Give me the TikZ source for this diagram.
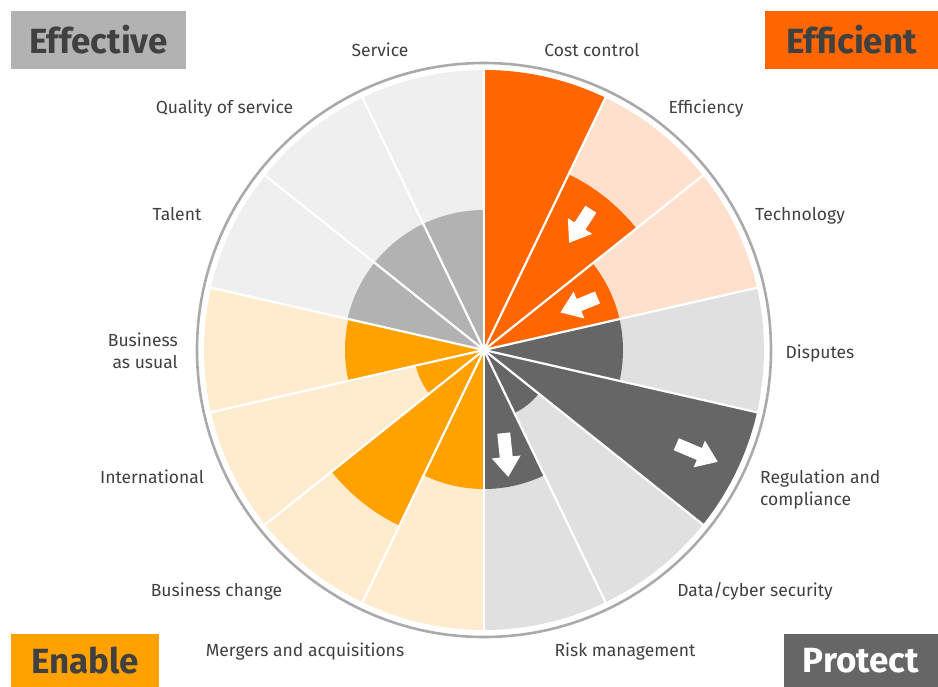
\documentclass[tikz,border=0pt]{standalone}
\usepackage{fontspec}
\setmainfont{Fira Sans}
\definecolor{orD}{HTML}{FF6600}
\definecolor{orL}{HTML}{FFE0CC}
\definecolor{grD}{HTML}{666666}
\definecolor{grL}{HTML}{E0E0E0}
\definecolor{enD}{HTML}{FFA200}
\definecolor{enL}{HTML}{FFECCF}
\definecolor{efD}{HTML}{B2B2B2}
\definecolor{efL}{HTML}{EFEFEF}
\definecolor{txt}{HTML}{404040}
\definecolor{ring}{HTML}{AAAAAA}
\tikzset{
  lbl/.style={text=txt, font=\fontsize{17.5}{22}\selectfont, inner sep=0pt, anchor=base},
  titlebox/.style={font=\fontsize{35}{40}\selectfont\bfseries, text=txt, inner sep=0pt},
  sep/.style={white, line width=2.2pt},
  ringline/.style={ring, line width=2.6pt},
}
\newcommand\blockarr[4]{%
  \fill[white, shift={(#1)}, rotate=#2]
    (-#3/2,-6.5) -- (#3/2-#4,-6.5) -- (#3/2-#4,-14.5) -- (#3/2,0)
    -- (#3/2-#4,14.5) -- (#3/2-#4,6.5) -- (-#3/2,6.5) -- cycle;}
\begin{document}
\begin{tikzpicture}[x=1pt,y=1pt]
\useasboundingbox (0,0) rectangle (938,-687);
\coordinate (c) at (484,-350);
% sectors
\foreach \i/\r/\lc/\dc in {0/280/orL/orD, 1/195/orL/orD, 2/139/orL/orD,
  3/139/grL/grD, 4/280/grL/grD, 5/70/grL/grD, 6/139/grL/grD,
  7/139/enL/enD, 8/195/enL/enD, 9/70/enL/enD, 10/139/enL/enD,
  11/140/efL/efD, 12/140/efL/efD, 13/140/efL/efD}{
  \pgfmathsetmacro\aa{90-\i*360/14}
  \pgfmathsetmacro\ab{90-(\i+1)*360/14}
  \fill[\lc] (c) -- +(\aa:280) arc[start angle=\aa, end angle=\ab, radius=280] -- cycle;
  \fill[\dc] (c) -- +(\aa:\r) arc[start angle=\aa, end angle=\ab, radius=\r] -- cycle;
}
\foreach \i in {0,...,13}{
  \draw[sep] (c) -- +({90-\i*360/14}:281);
}
\draw[ringline] (c) circle[radius=287];
% arrows
\blockarr{580,-226}{-123}{40}{20}
\blockarr{579,-305}{202}{40}{20}
\blockarr{697,-453}{-23}{45}{20}
\blockarr{506,-455}{-84}{44}{20}
% labels
\node[lbl] (l1) at (380,-57) {Service};
\node[lbl] (l2) at (592,-57) {Cost control};
\node[lbl] (l3) at (706,-114) {Efficiency};
\node[lbl] (l4) at (224.5,-114) {Quality of service};
\node[lbl] (l5) at (177,-221) {Talent};
\node[lbl] (l6) at (800,-221) {Technology};
\node[lbl] (l7) at (820,-359) {Disputes};
\node[lbl, anchor=base east] (l8a) at (178,-347) {Business};
\node[lbl, anchor=base east] (l8b) at (178,-368) {as usual};
\node[lbl] (l9) at (152,-483) {International};
\node[lbl, anchor=base west] (l10a) at (760,-483) {Regulation and};
\node[lbl, anchor=base west] (l10b) at (760,-505) {compliance};
\node[lbl] (l11) at (216.5,-596) {Business change};
\node[lbl] (l12) at (755,-596) {Data/cyber security};
\node[lbl] (l13) at (305,-656) {Mergers and acquisitions};
\node[lbl] (l14) at (625,-656) {Risk management};
% titles
\node[titlebox, fill=efD, minimum width=175, minimum height=58] (tEff) at (98.5,-40) {Effective};
\node[titlebox, fill=orD, minimum width=173, minimum height=58] (tEffi) at (851.5,-40) {Efficient};
\node[titlebox, fill=enD, minimum width=148, minimum height=53] (tEna) at (85,-660.5) {Enable};
\node[titlebox, fill=grD, text=white, minimum width=154, minimum height=53] (tPro) at (861,-660.5) {Protect};
\end{tikzpicture}
\end{document}
